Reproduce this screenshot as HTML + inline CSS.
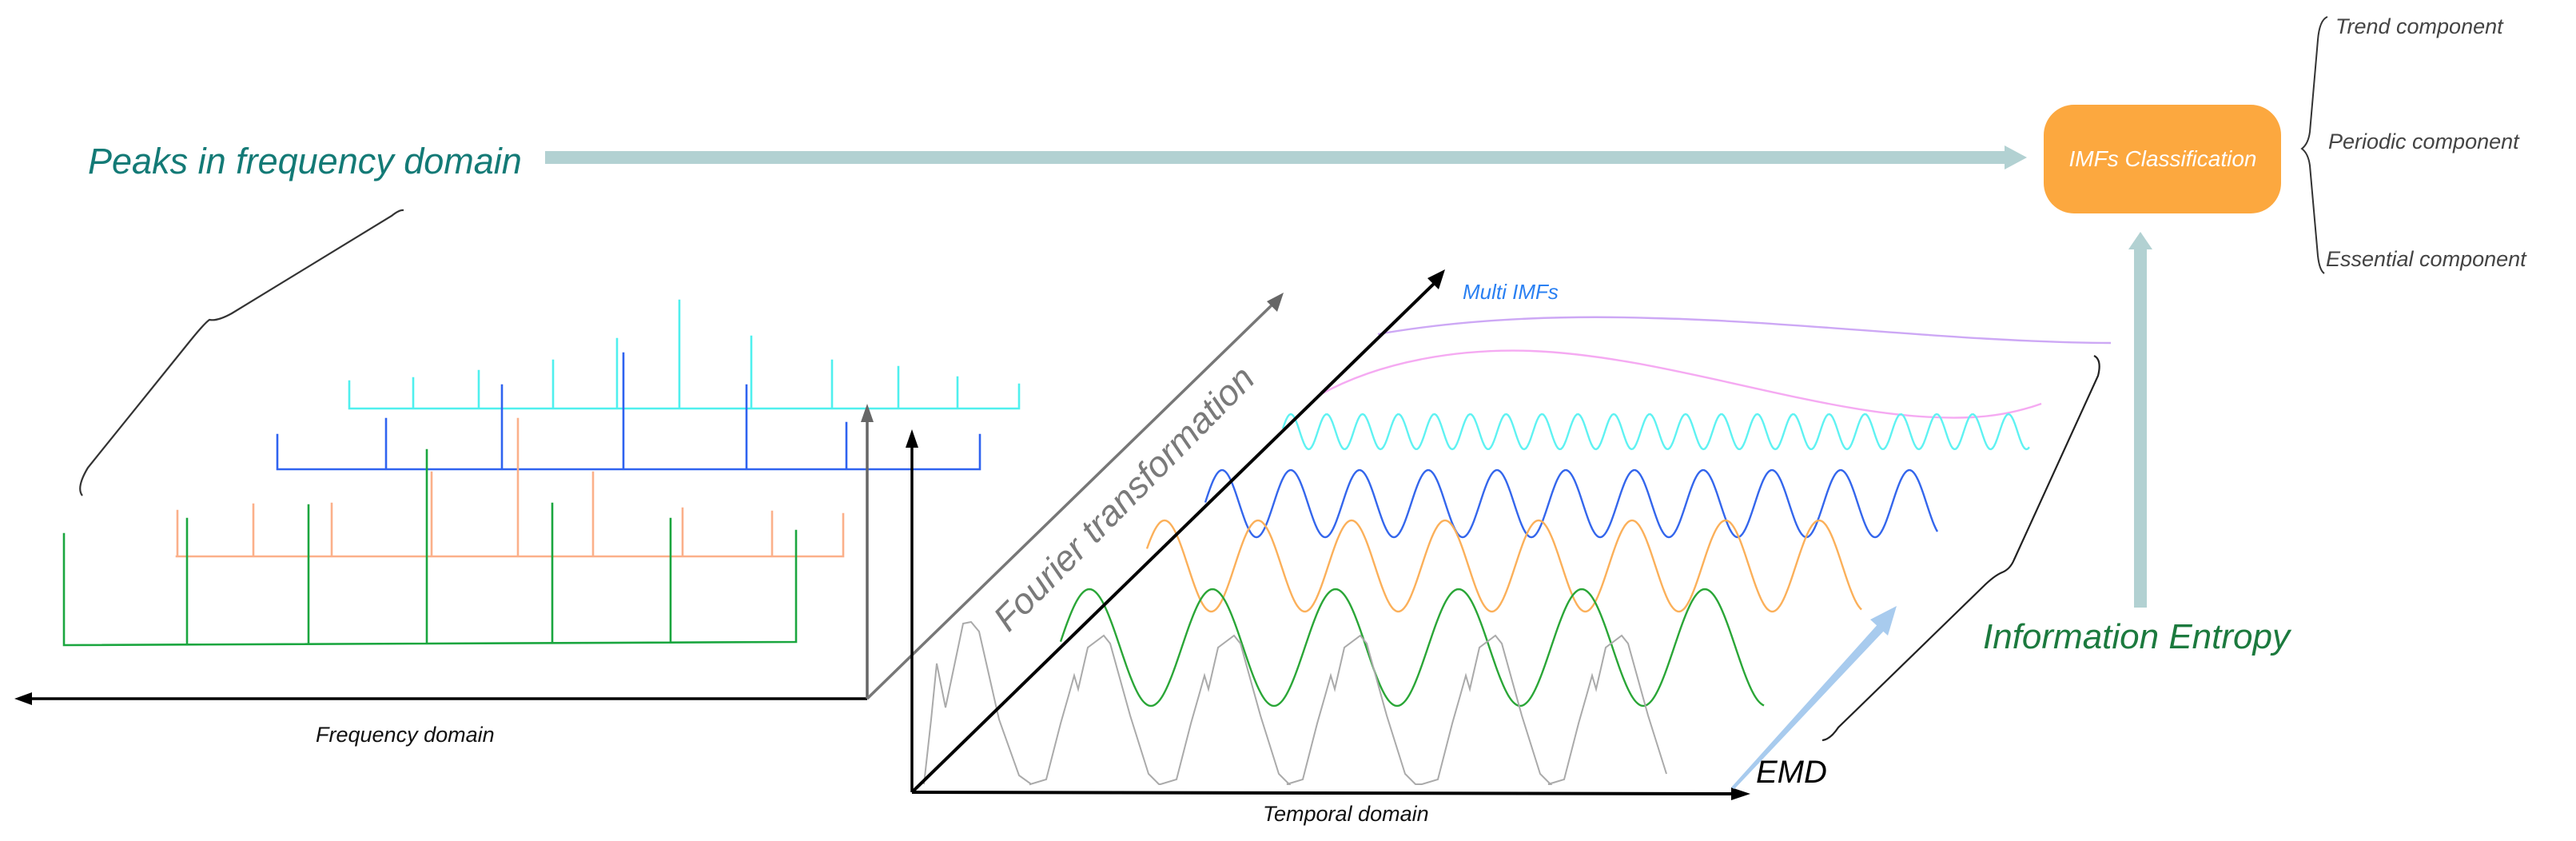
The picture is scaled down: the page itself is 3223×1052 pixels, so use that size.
<!DOCTYPE html>
<html><head><meta charset="utf-8"><style>
html,body{margin:0;padding:0;background:#fff;}
svg{display:block;}
text{font-family:"Liberation Sans",sans-serif;font-style:italic;}
</style></head><body>
<svg id="s" width="3223" height="1052" viewBox="0 0 3223 1052" xmlns="http://www.w3.org/2000/svg">
<rect width="3223" height="1052" fill="#fff"/>
<rect x="682" y="189" width="1830" height="16" fill="#b2d1d2"/>
<polygon points="2508,182 2536,197 2508,212" fill="#b2d1d2"/>
<text x="110" y="217" font-size="45" fill="#137a76">Peaks in frequency domain</text>
<rect x="2557" y="131" width="297" height="136" rx="38" fill="#fca83f"/>
<text x="2706" y="208" font-size="28" fill="#fff" text-anchor="middle">IMFs Classification</text>
<rect x="2670" y="310" width="16" height="450" fill="#b2d1d2"/>
<polygon points="2663,312 2678,290 2693,312" fill="#b2d1d2"/>
<text x="2481" y="811" font-size="44" fill="#1c7a3e">Information Entropy</text>
<path d="M2912,21 Q2902,25 2900,50 L2890,165 Q2888,180 2880,186 Q2888,192 2890,207 L2900,320 Q2902,338 2908,342" fill="none" stroke="#333" stroke-width="2"/>
<text x="2922" y="42" font-size="27" fill="#444">Trend component</text>
<text x="2913" y="186" font-size="27" fill="#444">Periodic component</text>
<text x="2910" y="333" font-size="27" fill="#444">Essential component</text>
<path d="M103,620 Q95,610 110,585 L235,430 Q255,405 262,400 Q272,402 290,392 L490,270 Q500,262 505,263" fill="none" stroke="#333" stroke-width="2.2"/>
<g fill="none" stroke-width="2.6" stroke-linecap="square">
<g id="cy" stroke="#4ff0ee"></g>
<g id="bl" stroke="#2f63f0"></g>
<g id="or" stroke="#fbb08a"></g>
<g id="gr" stroke="#1aa63f"></g>
</g>
<line x1="1085" y1="874" x2="35" y2="874" stroke="#000" stroke-width="3.5"/>
<polygon points="18,874 40,866 40,882" fill="#000"/>
<text x="395" y="928" font-size="27" fill="#111">Frequency domain</text>
<line x1="1085" y1="874" x2="1085" y2="525" stroke="#666" stroke-width="3.5"/>
<polygon points="1085,505 1077,528 1093,528" fill="#666"/>
<line x1="1085" y1="874" x2="1595" y2="378" stroke="#777" stroke-width="3.5"/>
<polygon points="1606,366 1598,390 1585,377" fill="#666"/>
<text x="0" y="0" font-size="45" fill="#7a7a7a" transform="translate(1262,792) rotate(-45.5)">Fourier transformation</text>
<g fill="none" stroke-width="2.4">
<path d="M1724,418 C1850,396 1980,395 2069,398 C2250,402 2450,428 2641,429" stroke="#cda8f5"/>
<path d="M1651,494 C1730,450 1830,436 1916,439 C2100,446 2300,530 2467,522 C2510,520 2540,510 2554,505" stroke="#f5aaf2"/>
<path id="wc" stroke="#5ff2f2"/>
<path id="wb" stroke="#3466ec"/>
<path id="wo" stroke="#fbb05a"/>
<path id="wg" stroke="#2aa637"/>
<path id="wgr" stroke="#aaaaaa" stroke-width="2"/>
</g>
<line x1="1141" y1="991" x2="1141" y2="555" stroke="#000" stroke-width="3.5"/>
<polygon points="1141,537 1133,560 1149,560" fill="#000"/>
<line x1="1141" y1="991" x2="2170" y2="993" stroke="#000" stroke-width="4"/>
<polygon points="2190,993 2166,985 2166,1001" fill="#000"/>
<line x1="1141" y1="991" x2="1797" y2="352" stroke="#000" stroke-width="4"/>
<polygon points="1808,337 1800,362 1786,348" fill="#000"/>
<text x="1580" y="1027" font-size="27" fill="#111">Temporal domain</text>
<text x="1830" y="374" font-size="26" fill="#2a80f2">Multi IMFs</text>
<polygon points="2166,985 2352,778 2360,786 2170,987" fill="#a8cbee"/>
<polygon points="2373,758 2340,775 2362,795" fill="#a8cbee"/>
<text x="2197" y="979" font-size="40" fill="#000">EMD</text>
<path d="M2620,445 Q2630,450 2625,470 L2520,700 Q2515,712 2505,716 Q2495,720 2480,735 L2300,910 Q2290,925 2280,926" fill="none" stroke="#222" stroke-width="2.2"/>
</svg>
<script>
function tick(g,base,x1,x2,ticks){
 var s='<path d="M'+x1+','+base[0]+' L'+x2+','+base[1];
 ticks.forEach(function(t){var yb=base[0]+(base[1]-base[0])*(t[0]-x1)/(x2-x1);s+=' M'+t[0]+','+yb+' L'+t[0]+','+t[1];});
 s+='"/>';document.getElementById(g).innerHTML=s;}
tick('cy',[511,511],437,1275,[[437,477],[517,473],[599,464],[692,451],[772,424],[850,376],[940,421],[1041,451],[1124,459],[1198,472],[1275,481]]);
tick('bl',[587,587],347,1226,[[347,544],[483,524],[628,482],[780,442],[934,482],[1059,529],[1226,544]]);
tick('or',[696,696],221,1055,[[222,639],[317,631],[415,630],[540,591],[648,524],[742,591],[854,636],[966,640],[1055,643]]);
tick('gr',[807,803],80,996,[[80,668],[234,649],[386,632],[534,563],[691,630],[839,649],[996,664]]);
function sine(id,xp,P,c,A,x1,x2){var d='';for(var x=x1;x<=x2;x+=2){var y=c-A*Math.cos(2*Math.PI*(x-xp)/P);d+=(d?' L':'M')+x+','+y.toFixed(1);}document.getElementById(id).setAttribute('d',d);}
sine('wc',1615,44.9,540,22,1605,2539);
sine('wb',1529,86,630,42,1508,2424);
sine('wo',1457,117,708,57,1435,2330);
sine('wg',1363,154,810,73,1327,2207);
var d='M1156,981 L1165,900 L1172,830 L1183,885 L1205,780 L1215,778 L1225,790 L1250,900 L1275,970 L1289,980';
[1289,1452,1610,1779,1937].forEach(function(T,i){
 var pts=[[0,981],[20,975],[38,905],[48,870],[55,845],[60,862],[72,810],[92,795],[100,805],[125,895],[148,968],[161,981]];
 pts.forEach(function(p){ if(T+p[0]<=2095) d+=' L'+(T+p[0])+','+p[1];});
});
document.getElementById('wgr').setAttribute('d',d);
</script>
</body></html>
